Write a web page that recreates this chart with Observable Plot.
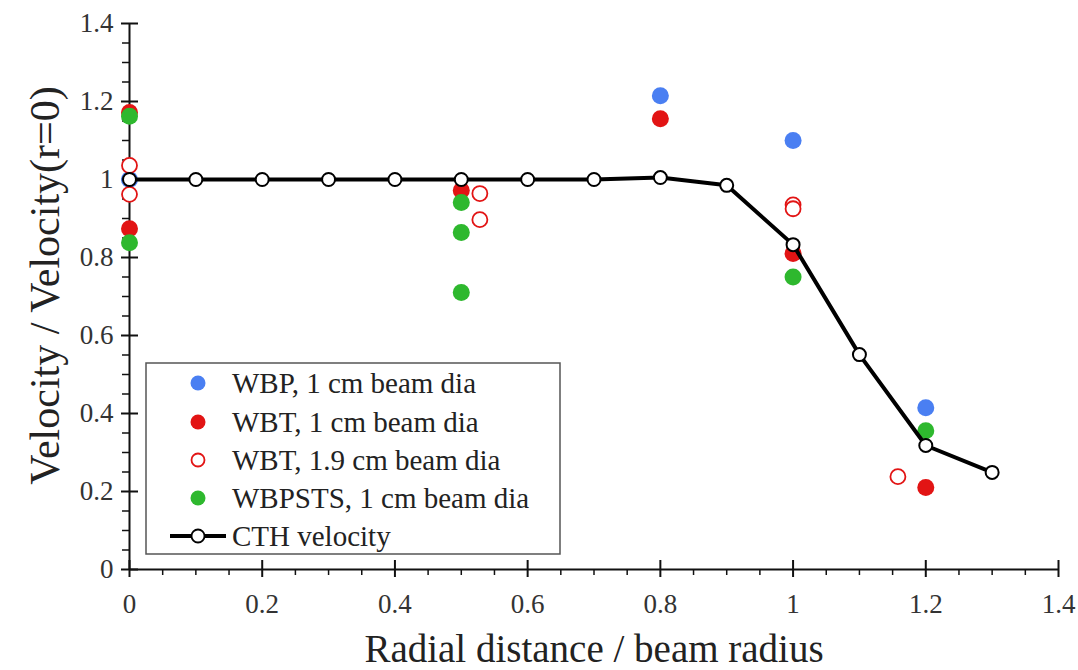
<!DOCTYPE html>
<html>
<head>
<meta charset="utf-8">
<script src="https://cdn.jsdelivr.net/npm/d3@7"></script>
<script src="https://cdn.jsdelivr.net/npm/@observablehq/plot@0.6"></script>
<style>
  html, body { margin: 0; padding: 0; background: #fff; }
  #chart { position: relative; width: 1078px; height: 670px; }
</style>
</head>
<body>
<div id="chart"></div>
<script>
// ---- Data ----
const wbpX = [0, 0.8, 1.0, 1.2];
const wbpY = [1.0, 1.215, 1.10, 0.415];

const wbtX = [0, 0, 0.5, 0.8, 1.0, 1.2];
const wbtY = [1.172, 0.874, 0.972, 1.156, 0.81, 0.21];

const wbt19X = [0, 0, 0.528, 0.528, 1.0, 1.0, 1.158];
const wbt19Y = [1.036, 0.962, 0.964, 0.897, 0.935, 0.925, 0.238];

const wbpstsX = [0, 0, 0.5, 0.5, 0.5, 1.0, 1.2];
const wbpstsY = [1.162, 0.838, 0.941, 0.864, 0.71, 0.75, 0.356];

const cthX = [0, 0.1, 0.2, 0.3, 0.4, 0.5, 0.6, 0.7, 0.8, 0.9, 1.0, 1.1, 1.2, 1.3];
const cthY = [1, 1, 1, 1, 1, 1, 1, 1.0, 1.005, 0.985, 0.833, 0.551, 0.318, 0.249];

const xMajor = [0, 0.2, 0.4, 0.6, 0.8, 1.0, 1.2, 1.4];
const yMajor = [0, 0.2, 0.4, 0.6, 0.8, 1.0, 1.2, 1.4];
const xMinor = [0.05, 0.1, 0.15, 0.25, 0.3, 0.35, 0.45, 0.5, 0.55, 0.65, 0.7, 0.75, 0.85, 0.9, 0.95, 1.05, 1.1, 1.15, 1.25, 1.3, 1.35];
const yMinor = xMinor.slice();

const legendLabels = ["WBP, 1 cm beam dia", "WBT, 1 cm beam dia", "WBT, 1.9 cm beam dia", "WBPSTS, 1 cm beam dia", "CTH velocity"];

const xLabel = "Radial distance / beam radius";
const yLabel = "Velocity / Velocity(r=0)";

// ---- Styles ----
const BLUE = "#4a7ff2", RED = "#e21414", GREEN = "#2eb82e";
const FONT = "'Liberation Serif', 'Times New Roman', serif";

const W = 1078, H = 670;
const mL = 129, mR = 20, mT = 23, mB = 101;
const pxX = (W - mL - mR) / 1.4, pxY = (H - mT - mB) / 1.4;
const tx = px => px / pxX, ty = px => px / pxY;

const pts = (X, Y) => X.map((x, i) => ({x, y: Y[i]}));

const chart = Plot.plot({
  width: W, height: H,
  marginLeft: mL, marginRight: mR, marginTop: mT, marginBottom: mB,
  x: {domain: [0, 1.4], axis: null},
  y: {domain: [0, 1.4], axis: null},
  style: {fontFamily: FONT, fontSize: "27px", background: "#fff", overflow: "visible"},
  marks: [
    // axis lines
    Plot.ruleY([0], {x1: 0, x2: 1.4, stroke: "#111", strokeWidth: 2}),
    Plot.ruleX([0], {y1: 0, y2: 1.4, stroke: "#111", strokeWidth: 2}),
    // major ticks (crossing)
    Plot.ruleX(xMajor, {x: d => d, y1: -ty(8), y2: ty(9), stroke: "#111", strokeWidth: 2}),
    Plot.ruleY(yMajor, {y: d => d, x1: -tx(8), x2: tx(9), stroke: "#111", strokeWidth: 2}),
    // minor ticks (outward)
    Plot.ruleX(xMinor, {x: d => d, y1: -ty(6), y2: 0, stroke: "#111", strokeWidth: 1.5}),
    Plot.ruleY(yMinor, {y: d => d, x1: -tx(7), x2: 0, stroke: "#111", strokeWidth: 1.5}),
    // tick labels
    Plot.axisX({ticks: xMajor, tickSize: 0, tickPadding: 24, fill: "#333", label: null, tickFormat: d => d3.format("~g")(d)}),
    Plot.axisY({ticks: yMajor, tickSize: 0, tickPadding: 16, fill: "#333", label: null, tickFormat: d => d3.format("~g")(d)}),
    // axis titles
    Plot.text([xLabel], {text: d => d, frameAnchor: "bottom", textAnchor: "middle", lineAnchor: "middle", dy: 80, fontSize: 39, fill: "#222"}),
    Plot.text([yLabel], {text: d => d, frameAnchor: "left", textAnchor: "middle", lineAnchor: "middle", rotate: -90, dx: -84, dy: -11, fontSize: 42, fill: "#222"}),
    // data
    Plot.dot(pts(wbpX, wbpY), {x: "x", y: "y", r: 8.5, fill: BLUE, stroke: "none"}),
    Plot.dot(pts(wbtX, wbtY), {x: "x", y: "y", r: 8.5, fill: RED, stroke: "none"}),
    Plot.dot(pts(wbpstsX, wbpstsY), {x: "x", y: "y", r: 8.5, fill: GREEN, stroke: "none"}),
    Plot.dot(pts(wbt19X, wbt19Y), {x: "x", y: "y", r: 7.5, fill: "#fff", stroke: RED, strokeWidth: 1.8}),
    Plot.line(pts(cthX, cthY), {x: "x", y: "y", stroke: "#000", strokeWidth: 4}),
    Plot.dot(pts(cthX, cthY), {x: "x", y: "y", r: 6.5, fill: "#fff", stroke: "#000", strokeWidth: 2})
  ]
});

// ---- Legend (drawn into the same SVG) ----
const svg = d3.select(chart);
const lg = svg.append("g").attr("font-family", FONT).attr("font-size", 29)
  .attr("fill", "#222").attr("text-anchor", "start");
lg.append("rect").attr("x", 146).attr("y", 363).attr("width", 414).attr("height", 191)
  .attr("fill", "#fff").attr("stroke", "#555").attr("stroke-width", 1.5);
const rowY = [383, 422, 460, 498, 536];
const mx = 198, textX = 232;
const legendStyles = [
  {fill: BLUE, stroke: "none", r: 7.5},
  {fill: RED, stroke: "none", r: 7.5},
  {fill: "#fff", stroke: RED, r: 6.5},
  {fill: GREEN, stroke: "none", r: 7.5},
  {fill: "#fff", stroke: "#000", r: 6.5}
];
legendLabels.forEach((lab, i) => {
  const s = legendStyles[i];
  if (i === 4) {
    lg.append("line").attr("x1", 170).attr("x2", 226).attr("y1", rowY[i]).attr("y2", rowY[i])
      .attr("stroke", "#000").attr("stroke-width", 4);
  }
  lg.append("circle").attr("cx", mx).attr("cy", rowY[i]).attr("r", s.r)
    .attr("fill", s.fill).attr("stroke", s.stroke).attr("stroke-width", i >= 2 ? 1.8 : 0);
  lg.append("text").attr("x", textX).attr("y", rowY[i]).attr("dy", "0.33em").text(lab);
});

document.getElementById("chart").appendChild(chart);
</script>
</body>
</html>
